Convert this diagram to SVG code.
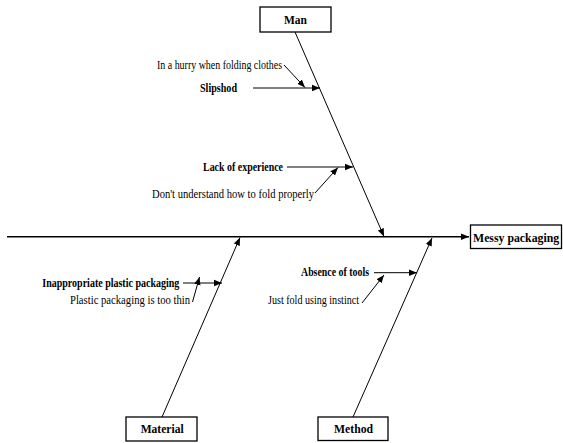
<svg xmlns="http://www.w3.org/2000/svg" width="563" height="443" viewBox="0 0 563 443">
<style>
text{font-family:"Liberation Serif","Times New Roman",serif;font-size:13px;fill:#000}
.b{font-weight:bold}
.box{fill:#fff;stroke:#000;stroke-width:1.3}
.ln{stroke:#000;stroke-width:1;fill:none}
.main{stroke:#000;stroke-width:1.5;fill:none}
</style>
<defs>
<marker id="ah" markerUnits="userSpaceOnUse" markerWidth="10" markerHeight="8" refX="8" refY="4" orient="auto">
<path d="M0,0.8 L8,4 L0,7.2 Z" fill="#000"/>
</marker>
</defs>
<rect width="563" height="443" fill="#fff"/>
<g id="connectors">
<line class="main" x1="7" y1="236.7" x2="469" y2="236.7" marker-end="url(#ah)"/>
<line class="ln" x1="295" y1="32" x2="384" y2="236.5" marker-end="url(#ah)"/>
<line class="ln" x1="162" y1="417" x2="240" y2="237.5" marker-end="url(#ah)"/>
<line class="ln" x1="353" y1="417" x2="432" y2="238" marker-end="url(#ah)"/>
<line class="ln" x1="253" y1="88" x2="320" y2="88" marker-end="url(#ah)"/>
<line class="ln" x1="284" y1="65" x2="305" y2="87.5" marker-end="url(#ah)"/>
<line class="ln" x1="287" y1="167" x2="353" y2="167" marker-end="url(#ah)"/>
<line class="ln" x1="315" y1="193" x2="338" y2="167.5" marker-end="url(#ah)"/>
<line class="ln" x1="183" y1="283" x2="222" y2="283" marker-end="url(#ah)"/>
<line class="ln" x1="192.5" y1="302" x2="199.5" y2="277" marker-end="url(#ah)"/>
<line class="ln" x1="374" y1="272.7" x2="417" y2="272.7" marker-end="url(#ah)"/>
<line class="ln" x1="362" y1="303" x2="384" y2="275" marker-end="url(#ah)"/>
</g>
<g id="man">
<rect class="box" x="260" y="7" width="71" height="25"/>
<text class="b" x="284" y="24" textLength="23" lengthAdjust="spacingAndGlyphs">Man</text>
</g>
<g id="messy-packaging">
<rect class="box" x="470.5" y="225" width="91" height="23.5"/>
<text class="b" x="473" y="241.5" style="font-size:11.8px">Messy packaging</text>
</g>
<g id="material">
<rect class="box" x="126" y="417" width="71" height="24"/>
<text class="b" x="140.7" y="433.3" textLength="43" lengthAdjust="spacingAndGlyphs">Material</text>
</g>
<g id="method">
<rect class="box" x="318" y="417" width="70" height="23.5"/>
<text class="b" x="334" y="433" textLength="39" lengthAdjust="spacingAndGlyphs">Method</text>
</g>
<g id="hurry">
<text x="157" y="69" textLength="125" lengthAdjust="spacingAndGlyphs">In a hurry when folding clothes</text>
</g>
<g id="slipshod">
<text class="b" x="200" y="92" textLength="37" lengthAdjust="spacingAndGlyphs">Slipshod</text>
</g>
<g id="lack-of-experience">
<text class="b" x="203" y="171" textLength="80" lengthAdjust="spacingAndGlyphs">Lack of experience</text>
</g>
<g id="dont-understand">
<text x="152" y="198" textLength="162" lengthAdjust="spacingAndGlyphs">Don't understand how to fold properly</text>
</g>
<g id="inappropriate">
<text class="b" x="42.3" y="287" textLength="137" lengthAdjust="spacingAndGlyphs">Inappropriate plastic packaging</text>
</g>
<g id="too-thin">
<text x="70" y="304" textLength="120" lengthAdjust="spacingAndGlyphs">Plastic packaging is too thin</text>
</g>
<g id="absence-of-tools">
<text class="b" x="301" y="276" textLength="68" lengthAdjust="spacingAndGlyphs">Absence of tools</text>
</g>
<g id="just-fold">
<text x="268" y="304" textLength="91" lengthAdjust="spacingAndGlyphs">Just fold using instinct</text>
</g>
</svg>
